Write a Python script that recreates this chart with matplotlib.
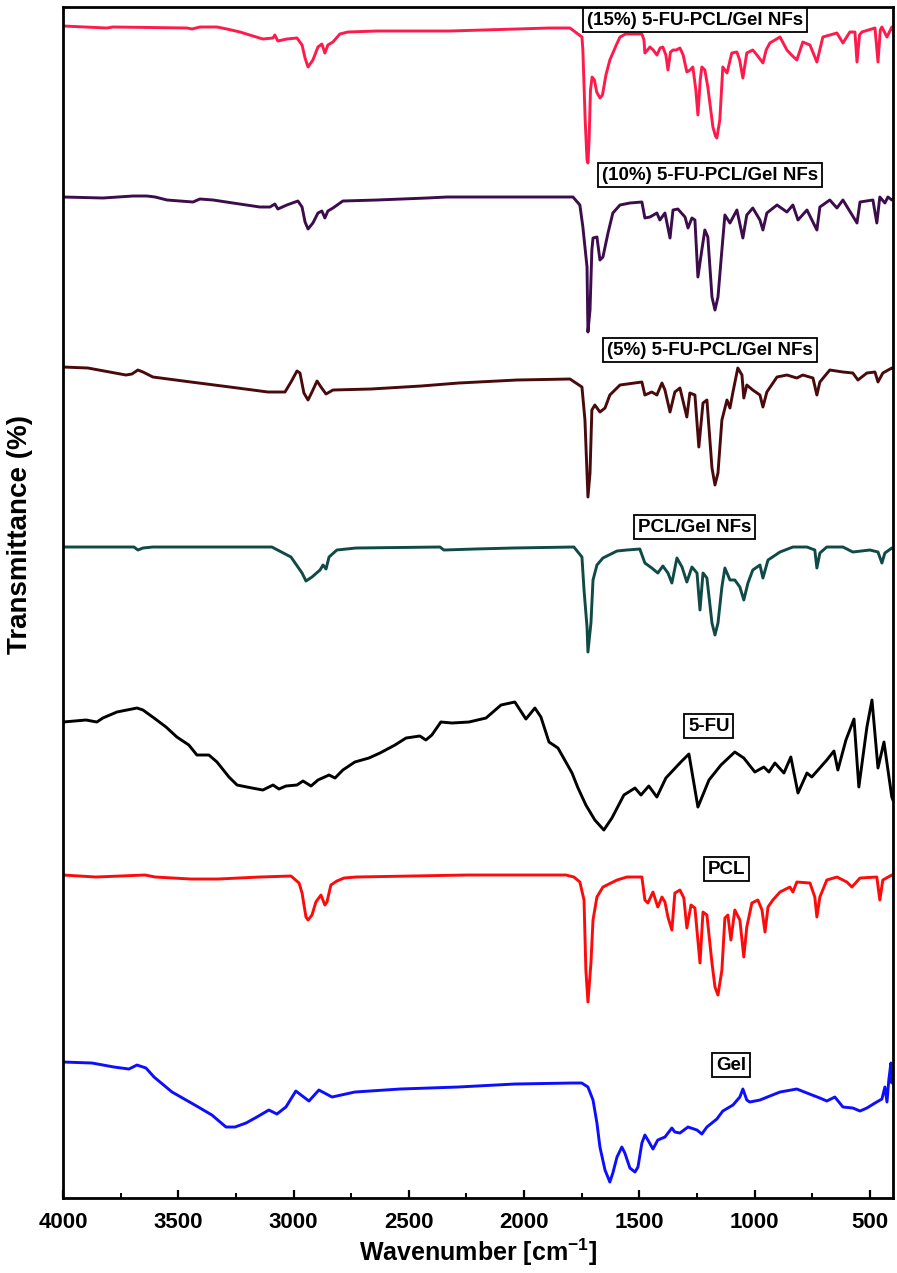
import numpy as np
import matplotlib
matplotlib.use("Agg")
import matplotlib.pyplot as plt
from matplotlib.ticker import MultipleLocator

plt.rcParams['font.family'] = ['Liberation Sans', 'DejaVu Sans']
plt.rcParams['mathtext.fontset'] = 'custom'
plt.rcParams['mathtext.rm'] = 'Liberation Sans:bold'
plt.rcParams['mathtext.default'] = 'rm'

#-----------------------------------------------------------
# FTIR spectra: (wavenumber [cm-1], transmittance, stacked a.u.)
nf15 = np.array([
  (4000, 1174), (3809, 1172), (3783, 1173), (3462, 1172), (3440, 1171), (3406, 1173),
  (3332, 1173), (3289, 1171), (3232, 1168), (3176, 1164), (3133, 1161), (3089, 1162),
  (3081, 1165), (3068, 1159), (3029, 1161), (2985, 1162), (2963, 1155), (2950, 1142),
  (2937, 1133), (2916, 1140), (2894, 1153), (2877, 1156), (2864, 1147), (2851, 1155),
  (2829, 1158), (2799, 1166), (2764, 1168), (2638, 1169), (2322, 1169), (1888, 1172),
  (1801, 1172), (1749, 1163), (1745, 1150), (1735, 1080), (1727, 1040), (1723, 1037),
  (1718, 1060), (1712, 1110), (1705, 1123), (1695, 1120), (1685, 1108), (1671, 1102),
  (1660, 1105), (1645, 1125), (1628, 1140), (1600, 1155), (1584, 1163), (1560, 1166),
  (1489, 1166), (1480, 1160), (1476, 1147), (1465, 1150), (1454, 1153), (1440, 1150),
  (1424, 1145), (1410, 1152), (1398, 1153), (1385, 1145), (1376, 1130), (1365, 1148),
  (1354, 1150), (1340, 1150), (1324, 1152), (1310, 1145), (1294, 1128), (1280, 1130),
  (1268, 1133), (1255, 1110), (1246, 1085), (1236, 1120), (1229, 1133), (1216, 1130),
  (1203, 1113), (1181, 1073), (1170, 1064), (1164, 1062), (1151, 1080), (1138, 1133),
  (1120, 1127), (1099, 1147), (1077, 1148), (1065, 1140), (1051, 1122), (1034, 1147),
  (1008, 1150), (990, 1145), (964, 1137), (950, 1150), (934, 1157), (890, 1163),
  (860, 1150), (840, 1145), (817, 1140), (791, 1158), (760, 1155), (730, 1138),
  (704, 1163), (643, 1167), (617, 1157), (587, 1168), (565, 1168), (556, 1138),
  (545, 1165), (535, 1168), (478, 1172), (465, 1138), (455, 1170), (448, 1173),
  (426, 1163), (405, 1173), (400, 1170)])

nf10 = np.array([
  (4000, 1003), (3827, 1002), (3696, 1004), (3636, 1004), (3600, 1003), (3549, 1000),
  (3436, 998), (3406, 1001), (3349, 1000), (3263, 997), (3146, 993), (3102, 993),
  (3081, 996), (3068, 991), (3029, 995), (2981, 999), (2963, 993), (2950, 978),
  (2937, 971), (2916, 977), (2894, 987), (2877, 989), (2864, 982), (2851, 989),
  (2829, 992), (2786, 999), (2638, 1000), (2421, 1002), (2334, 1003), (1844, 1003),
  (1788, 1003), (1758, 995), (1745, 973), (1727, 933), (1723, 868), (1714, 890),
  (1706, 950), (1701, 962), (1684, 963), (1671, 940), (1658, 943), (1636, 967),
  (1615, 987), (1584, 995), (1541, 997), (1489, 998), (1476, 982), (1454, 983),
  (1424, 987), (1411, 980), (1389, 987), (1367, 962), (1354, 990), (1333, 991),
  (1302, 983), (1289, 972), (1272, 982), (1259, 980), (1246, 923), (1229, 950),
  (1216, 970), (1203, 963), (1185, 903), (1172, 890), (1159, 903), (1142, 950),
  (1129, 985), (1107, 977), (1077, 990), (1051, 962), (1034, 985), (1008, 992),
  (977, 980), (964, 970), (947, 987), (903, 995), (860, 988), (834, 995),
  (812, 980), (773, 990), (730, 970), (717, 993), (674, 1000), (643, 992),
  (617, 1000), (556, 977), (543, 998), (487, 1000), (470, 977), (457, 1003),
  (435, 997), (422, 1003), (405, 1000), (400, 1001)])

nf5 = np.array([
  (4000, 833), (3892, 832), (3727, 825), (3701, 826), (3675, 830), (3653, 828),
  (3610, 823), (3445, 818), (3276, 813), (3111, 808), (3037, 808), (3011, 818),
  (2985, 829), (2972, 827), (2955, 807), (2937, 800), (2920, 808), (2898, 819),
  (2881, 813), (2859, 806), (2829, 810), (2664, 811), (2447, 814), (2283, 817),
  (2031, 820), (1801, 821), (1749, 813), (1736, 780), (1723, 703), (1714, 727),
  (1706, 790), (1693, 795), (1671, 788), (1649, 792), (1628, 805), (1584, 815),
  (1489, 818), (1476, 805), (1446, 808), (1424, 805), (1402, 817), (1389, 810),
  (1367, 788), (1346, 808), (1324, 812), (1294, 783), (1281, 807), (1259, 805),
  (1242, 753), (1224, 797), (1207, 800), (1185, 732), (1172, 715), (1159, 727),
  (1142, 780), (1120, 800), (1107, 792), (1094, 808), (1073, 832), (1055, 825),
  (1047, 802), (1034, 815), (1008, 810), (977, 805), (964, 793), (947, 808),
  (903, 823), (860, 825), (817, 822), (791, 825), (747, 822), (730, 805),
  (717, 818), (674, 830), (617, 828), (574, 827), (552, 820), (513, 827),
  (478, 828), (465, 818), (444, 827), (405, 832), (400, 831)])

pcl_gel = np.array([
  (4000, 653), (3692, 653), (3675, 650), (3653, 652), (3610, 653), (3094, 653),
  (3011, 643), (2963, 627), (2946, 619), (2920, 623), (2885, 630), (2872, 635),
  (2859, 631), (2846, 643), (2812, 650), (2729, 652), (2365, 653), (2348, 650),
  (2213, 651), (2048, 652), (1784, 653), (1749, 643), (1740, 610), (1727, 573),
  (1723, 548), (1710, 577), (1701, 620), (1684, 635), (1658, 642), (1597, 649),
  (1554, 650), (1498, 651), (1476, 637), (1446, 632), (1420, 627), (1398, 634),
  (1376, 627), (1359, 617), (1337, 642), (1315, 633), (1294, 618), (1272, 633),
  (1250, 627), (1237, 590), (1224, 627), (1207, 622), (1185, 577), (1172, 565),
  (1159, 577), (1142, 613), (1129, 632), (1107, 620), (1086, 620), (1064, 613),
  (1047, 600), (1029, 617), (1008, 630), (977, 635), (964, 622), (942, 640),
  (890, 648), (834, 653), (773, 653), (739, 650), (730, 632), (717, 647),
  (687, 653), (617, 653), (574, 648), (500, 650), (465, 648), (448, 637),
  (435, 647), (405, 652), (400, 651)])

fu = np.array([
  (4000, 478), (3900, 480), (3853, 478), (3827, 482), (3766, 488), (3679, 492),
  (3653, 490), (3605, 482), (3553, 473), (3506, 463), (3454, 455), (3419, 445),
  (3367, 445), (3332, 438), (3280, 423), (3245, 415), (3180, 412), (3133, 410),
  (3089, 415), (3063, 411), (3033, 414), (2985, 415), (2959, 419), (2924, 414),
  (2894, 420), (2846, 425), (2820, 422), (2786, 430), (2734, 438), (2673, 442),
  (2625, 447), (2560, 455), (2512, 462), (2452, 464), (2426, 460), (2400, 465),
  (2361, 478), (2313, 477), (2239, 478), (2165, 482), (2100, 495), (2040, 498),
  (1992, 481), (1953, 492), (1927, 483), (1892, 458), (1853, 452), (1792, 427),
  (1766, 412), (1732, 395), (1693, 380), (1654, 370), (1619, 382), (1567, 405),
  (1519, 412), (1493, 405), (1459, 414), (1424, 403), (1385, 422), (1320, 438),
  (1285, 446), (1246, 393), (1198, 420), (1146, 435), (1086, 448), (1047, 442),
  (999, 428), (960, 433), (938, 428), (912, 437), (873, 427), (843, 443),
  (812, 407), (773, 427), (752, 423), (687, 440), (656, 449), (639, 430),
  (604, 460), (569, 481), (548, 413), (513, 473), (491, 500), (465, 432),
  (439, 458), (405, 403), (400, 400)])

pcl = np.array([
  (4000, 325), (3857, 323), (3644, 325), (3600, 323), (3445, 321), (3328, 321),
  (3146, 323), (3011, 324), (2976, 317), (2963, 307), (2946, 283), (2937, 280),
  (2920, 285), (2903, 298), (2881, 305), (2864, 295), (2855, 298), (2838, 315),
  (2812, 319), (2781, 322), (2729, 323), (2248, 325), (1818, 325), (1784, 323),
  (1758, 318), (1740, 300), (1732, 230), (1723, 198), (1710, 237), (1701, 280),
  (1684, 303), (1658, 313), (1597, 320), (1554, 323), (1489, 323), (1476, 300),
  (1463, 297), (1441, 308), (1420, 293), (1402, 303), (1389, 298), (1376, 283),
  (1359, 270), (1346, 307), (1324, 310), (1307, 302), (1294, 272), (1276, 295),
  (1259, 292), (1237, 237), (1224, 288), (1207, 285), (1185, 237), (1172, 213),
  (1159, 205), (1142, 230), (1129, 282), (1116, 285), (1103, 260), (1086, 290),
  (1064, 280), (1047, 243), (1034, 273), (1012, 297), (986, 300), (968, 290),
  (955, 268), (942, 293), (921, 300), (890, 308), (847, 313), (834, 308),
  (817, 318), (760, 317), (739, 303), (730, 283), (717, 303), (687, 320),
  (643, 323), (600, 318), (578, 313), (543, 322), (470, 323), (457, 300),
  (444, 320), (405, 325), (400, 324)])

gel = np.array([
  (4000, 138), (3874, 137), (3779, 133), (3714, 131), (3679, 135), (3640, 132),
  (3605, 123), (3527, 108), (3428, 95), (3354, 85), (3293, 73), (3254, 73),
  (3206, 77), (3159, 83), (3107, 90), (3072, 86), (3033, 93), (2990, 109),
  (2933, 99), (2890, 110), (2833, 103), (2734, 108), (2538, 111), (2287, 113),
  (2040, 116), (1792, 117), (1750, 117), (1723, 113), (1701, 100), (1684, 77),
  (1671, 53), (1649, 30), (1628, 18), (1615, 27), (1597, 43), (1576, 53),
  (1563, 47), (1541, 32), (1519, 28), (1506, 33), (1489, 57), (1476, 65),
  (1463, 60), (1441, 51), (1420, 60), (1389, 63), (1359, 72), (1346, 68),
  (1324, 67), (1289, 73), (1250, 70), (1229, 66), (1207, 73), (1164, 81),
  (1138, 89), (1094, 95), (1064, 103), (1051, 111), (1034, 100), (1021, 98),
  (977, 100), (934, 104), (890, 108), (817, 111), (773, 107), (717, 102),
  (687, 99), (652, 103), (617, 93), (574, 92), (543, 89), (513, 92),
  (478, 97), (448, 101), (435, 113), (426, 98), (418, 120), (409, 137),
  (405, 117), (400, 120)])

names = ['(15%) 5-FU-PCL/Gel NFs', '(10%) 5-FU-PCL/Gel NFs', '(5%) 5-FU-PCL/Gel NFs',
         'PCL/Gel NFs', '5-FU', 'PCL', 'Gel']
spectra = [nf15, nf10, nf5, pcl_gel, fu, pcl, gel]
colors = ['#ff1a4b', '#3d0c4c', '#4a0a0c', '#0f4a47', '#000000', '#ff0a0a', '#0d0dff']
# label box anchor (wavenumber, a.u.)
label_xy = [(1259, 1180), (1194, 1025), (1194, 850), (1259, 673),
            (1198, 474), (1120, 331), (1103, 135)]

#-----------------------------------------------------------
fig = plt.figure(figsize=(8.97, 12.73), dpi=100)
ax = fig.add_axes([0.0702, 0.0589, 0.9253, 0.9356])

for data, c in zip(spectra, colors):
  ax.plot(data[:, 0], data[:, 1], color=c, lw=2.1)

for (x, y), name in zip(label_xy, names):
  ax.text(x, y, name, ha='center', va='center', fontsize=13.5, fontweight='bold',
          bbox=dict(boxstyle='square,pad=0.2', fc='white', ec='black', lw=1.3))

ax.set_xlim(4000, 400)
ax.set_ylim(2, 1193)
ax.xaxis.set_major_locator(MultipleLocator(500))
ax.xaxis.set_minor_locator(MultipleLocator(250))
ax.tick_params(axis='x', which='major', direction='in', length=6, width=1.6,
               labelsize=16, pad=10)
ax.tick_params(axis='x', which='minor', direction='in', length=3.5, width=1.4)
ax.set_yticks([])
for lab in ax.get_xticklabels():
  lab.set_fontweight('bold')
for sp in ax.spines.values():
  sp.set_linewidth(2.0)

ax.set_xlabel(r"Wavenumber [cm$^{-1}$]", fontsize=18, fontweight='bold', labelpad=3)
fig.text(0.0223, 0.58, "Transmittance (%)", rotation=90, ha='center', va='center',
         fontsize=20, fontweight='bold')

plt.savefig("out.png", dpi=100)
